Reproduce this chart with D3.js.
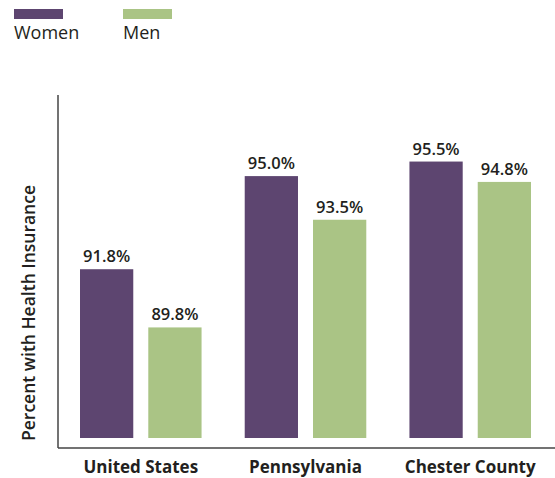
<!DOCTYPE html>
<html>
<head>
<meta charset="utf-8">
<script src="https://cdn.jsdelivr.net/npm/d3@7"></script>
<style>
  body { margin: 0; background: #fff; }
  svg { display: block; font-family: "Open Sans", sans-serif; }
</style>
</head>
<body>
<div id="chart"></div>
<script>
// data
const regions = ["United States", "Pennsylvania", "Chester County"];
const genders = ["Women", "Men"];
const women = [91.8, 95.0, 95.5];
const men = [89.8, 93.5, 94.8];
const colors = ["#5d4570", "#aac485"];

const width = 555;
const height = 478;

const svg = d3.select("#chart").append("svg")
    .attr("width", width)
    .attr("height", height);

// scales
const x0 = d3.scaleBand().domain(regions).range([80, 531]).paddingInner(0.262);
const x1 = d3.scaleBand().domain(genders).range([0, x0.bandwidth()]).paddingInner(0.22);
const y = d3.scaleLinear().domain([86, 98]).range([438, 438 - 12 * 29.1]);
const color = d3.scaleOrdinal().domain(genders).range(colors);

const rows = regions.map((r, i) => ({ region: r, values: [
    { gender: "Women", value: women[i] },
    { gender: "Men", value: men[i] }
] }));

// bars
const group = svg.selectAll("g.region")
    .data(rows)
    .enter().append("g")
    .attr("class", "region")
    .attr("transform", d => `translate(${x0(d.region)},0)`);

group.selectAll("rect")
    .data(d => d.values)
    .enter().append("rect")
    .attr("x", d => x1(d.gender))
    .attr("y", d => y(d.value))
    .attr("width", x1.bandwidth())
    .attr("height", d => y(86) - y(d.value))
    .attr("fill", d => color(d.gender));

group.selectAll("text")
    .data(d => d.values)
    .enter().append("text")
    .attr("x", d => x1(d.gender) + x1.bandwidth() / 2)
    .attr("y", d => y(d.value) - 7)
    .attr("text-anchor", "middle")
    .attr("font-size", "16.5px")
    .attr("font-weight", 600)
    .attr("fill", "#231f20")
    .text(d => d.value.toFixed(1) + "%");

// axes lines
svg.append("line")
    .attr("x1", 58).attr("x2", 58)
    .attr("y1", 95).attr("y2", 448)
    .attr("stroke", "#444").attr("stroke-width", 1.5);
svg.append("line")
    .attr("x1", 58).attr("x2", width)
    .attr("y1", 448).attr("y2", 448)
    .attr("stroke", "#444").attr("stroke-width", 1.5);

// category labels
svg.selectAll("text.cat")
    .data(regions)
    .enter().append("text")
    .attr("class", "cat")
    .attr("x", d => x0(d) + x0.bandwidth() / 2)
    .attr("y", 473)
    .attr("text-anchor", "middle")
    .attr("font-size", "17px")
    .attr("font-weight", 700)
    .attr("fill", "#231f20")
    .text(d => d);

// y title
svg.append("text")
    .attr("transform", "translate(35,313) rotate(-90)")
    .attr("text-anchor", "middle")
    .attr("font-size", "17.5px")
    .attr("font-weight", 600)
    .attr("fill", "#231f20")
    .text("Percent with Health Insurance");

// legend
const legend = svg.selectAll("g.legend")
    .data(genders)
    .enter().append("g")
    .attr("class", "legend")
    .attr("transform", (d, i) => `translate(${14 + i * 109},0)`);

legend.append("rect")
    .attr("y", 9)
    .attr("width", 49)
    .attr("height", 10)
    .attr("fill", d => color(d));

legend.append("text")
    .attr("y", 39)
    .attr("font-size", "18px")
    .attr("fill", "#231f20")
    .text(d => d);
</script>
</body>
</html>
